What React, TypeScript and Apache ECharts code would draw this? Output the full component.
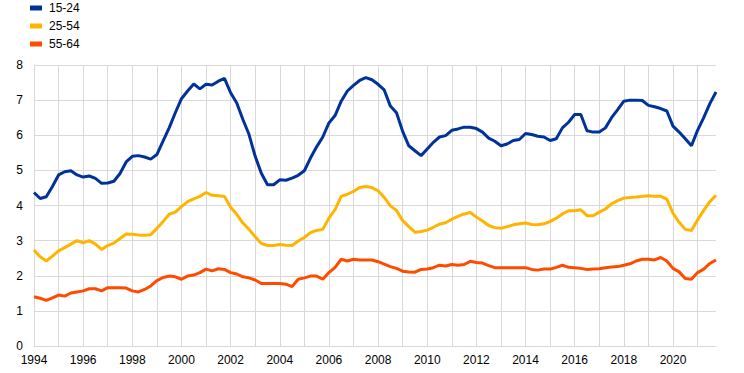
import React, { useEffect, useRef } from "react";
import * as echarts from "echarts";

const startYear = 1994;
const endYear = 2021;
const quarters: string[] = [];
for (let y = startYear; y <= endYear; y++) {
  for (let q = 1; q <= 4; q++) quarters.push(`${y}Q${q}`);
}

const seriesNames = ["15-24", "25-54", "55-64"];
const seriesColors = ["#003299", "#FFB400", "#FF4B00"];

const youth = [
  4.37, 4.2, 4.25, 4.54,
  4.87, 4.96, 4.99, 4.87,
  4.81, 4.84, 4.77, 4.63,
  4.64, 4.69, 4.91, 5.24,
  5.4, 5.42, 5.38, 5.32,
  5.45, 5.83, 6.21, 6.64,
  7.04, 7.26, 7.46, 7.32,
  7.45, 7.43, 7.54, 7.62,
  7.21, 6.92, 6.45, 6.02,
  5.4, 4.92, 4.59, 4.59,
  4.73, 4.72, 4.78, 4.86,
  4.99, 5.35, 5.67, 5.95,
  6.35, 6.56, 6.97, 7.26,
  7.42, 7.56, 7.64, 7.58,
  7.45, 7.29, 6.83, 6.64,
  6.11, 5.7, 5.56, 5.42,
  5.61, 5.8, 5.95, 5.99,
  6.14, 6.18, 6.23, 6.23,
  6.19, 6.09, 5.92, 5.83,
  5.7, 5.75, 5.85, 5.88,
  6.05, 6.02, 5.97, 5.95,
  5.85, 5.9, 6.21, 6.37,
  6.59, 6.59, 6.13, 6.09,
  6.09, 6.21, 6.5, 6.73,
  6.97, 7.0, 7.0, 6.99,
  6.85, 6.81, 6.76, 6.69,
  6.26, 6.09, 5.9, 5.7,
  6.14, 6.5, 6.9, 7.23,
];

const prime = [
  2.73, 2.54, 2.42, 2.56,
  2.71, 2.8, 2.9, 3.0,
  2.94, 3.0, 2.9, 2.75,
  2.86, 2.93, 3.06, 3.19,
  3.18, 3.16, 3.15, 3.17,
  3.35, 3.54, 3.75, 3.81,
  3.97, 4.11, 4.19, 4.26,
  4.37, 4.29, 4.28, 4.26,
  3.95, 3.75, 3.5, 3.32,
  3.11, 2.92, 2.86, 2.86,
  2.89, 2.87, 2.86, 2.99,
  3.09, 3.23, 3.29, 3.32,
  3.64, 3.88, 4.26, 4.32,
  4.4, 4.51, 4.54, 4.51,
  4.42, 4.23, 3.99, 3.86,
  3.57, 3.4, 3.24, 3.26,
  3.3, 3.38, 3.47, 3.51,
  3.61, 3.69, 3.76, 3.8,
  3.67, 3.56, 3.43, 3.37,
  3.35, 3.4, 3.45, 3.48,
  3.5, 3.46, 3.45, 3.48,
  3.54, 3.64, 3.76, 3.85,
  3.85, 3.88, 3.71, 3.71,
  3.81, 3.9, 4.05, 4.14,
  4.21, 4.23, 4.24, 4.26,
  4.28, 4.26, 4.26, 4.18,
  3.78, 3.52, 3.32, 3.29,
  3.59, 3.86, 4.11, 4.29,
];

const older = [
  1.4, 1.36, 1.3, 1.37,
  1.45, 1.42, 1.51, 1.54,
  1.57, 1.63, 1.63, 1.57,
  1.66, 1.66, 1.66, 1.65,
  1.57, 1.54, 1.61, 1.71,
  1.86, 1.95, 1.99, 1.97,
  1.9, 1.99, 2.02, 2.09,
  2.19, 2.14, 2.2, 2.18,
  2.09, 2.05, 1.97, 1.94,
  1.88, 1.78, 1.78, 1.78,
  1.78, 1.76, 1.69, 1.9,
  1.94, 1.99, 1.99, 1.9,
  2.09, 2.24, 2.47, 2.42,
  2.47, 2.45, 2.45, 2.45,
  2.4, 2.33, 2.26, 2.21,
  2.13, 2.11, 2.1, 2.18,
  2.19, 2.23, 2.3, 2.28,
  2.32, 2.3, 2.32, 2.41,
  2.38, 2.36, 2.29, 2.23,
  2.23, 2.23, 2.23, 2.23,
  2.23, 2.18, 2.16, 2.19,
  2.19, 2.24, 2.3, 2.24,
  2.23, 2.21, 2.18, 2.19,
  2.2, 2.23, 2.25, 2.26,
  2.3, 2.34, 2.42, 2.47,
  2.47, 2.45, 2.52, 2.42,
  2.21, 2.11, 1.92, 1.9,
  2.09, 2.19, 2.35, 2.45,
];

const seriesData = [youth, prime, older];

const FONT = "'Liberation Sans', Arial, sans-serif";
const GRID_COLOR = "#d9d9d9";

export default function App() {
  const ref = useRef<HTMLDivElement>(null);
  useEffect(() => {
    if (!ref.current) return;
    const chart = echarts.init(ref.current, undefined, { renderer: "svg" });
    chart.setOption({
      animation: false,
      textStyle: { fontFamily: FONT },
      legend: {
        orient: "vertical",
        left: 30,
        top: 2,
        padding: 0,
        itemWidth: 12,
        itemHeight: 5,
        itemGap: 6,
        icon: "rect",
        textStyle: { fontSize: 12, color: "#000", fontFamily: FONT, padding: [0, 0, 0, 2] },
        data: seriesNames,
      },
      grid: { left: 34, right: 28, top: 65, bottom: 27, containLabel: false },
      xAxis: {
        type: "category",
        data: quarters,
        boundaryGap: false,
        axisLine: { show: true, lineStyle: { color: GRID_COLOR, width: 1 } },
        axisTick: { show: false },
        axisLabel: {
          interval: (i: number) => i % 8 === 0,
          formatter: (v: string) => v.slice(0, 4),
          color: "#000",
          fontSize: 12,
          fontFamily: FONT,
          margin: 8,
        },
        splitLine: {
          show: true,
          interval: (i: number) => i % 4 === 0,
          lineStyle: { color: GRID_COLOR, width: 1 },
        },
      },
      yAxis: {
        type: "value",
        min: 0,
        max: 8,
        interval: 1,
        axisLine: { show: true, lineStyle: { color: GRID_COLOR, width: 1 } },
        axisTick: { show: false },
        axisLabel: { color: "#000", fontSize: 12, fontFamily: FONT, margin: 11 },
        splitLine: { show: true, lineStyle: { color: GRID_COLOR, width: 1 } },
      },
      series: seriesNames.map((name, i) => ({
        name,
        type: "line",
        data: seriesData[i],
        symbol: "none",
        smooth: false,
        lineStyle: { color: seriesColors[i], width: 3 },
        itemStyle: { color: seriesColors[i] },
      })),
    });
    return () => chart.dispose();
  }, []);
  return (
    <div
      ref={ref}
      style={{ position: "fixed", left: 0, top: 0, width: 744, height: 373, background: "#fff" }}
    />
  );
}
